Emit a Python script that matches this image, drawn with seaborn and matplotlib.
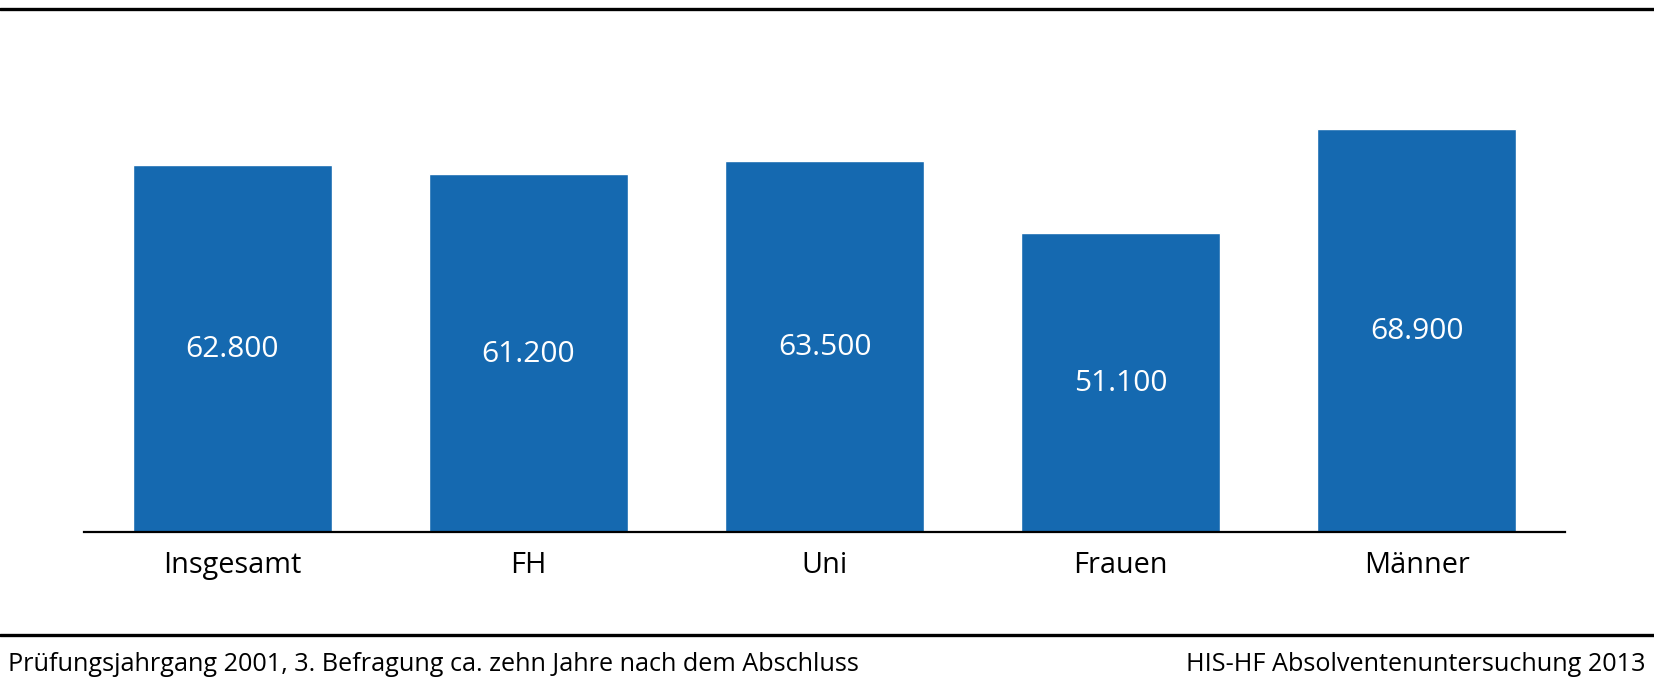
import matplotlib
matplotlib.use("Agg")
import matplotlib.pyplot as plt
import seaborn as sns
import pandas as pd
from matplotlib.lines import Line2D

categories = ["Insgesamt", "FH", "Uni", "Frauen", "Männer"]
values = [62800, 61200, 63500, 51100, 68900]
footer_left = "Prüfungsjahrgang 2001, 3. Befragung ca. zehn Jahre nach dem Abschluss"
footer_right = "HIS-HF Absolventenuntersuchung 2013"

sns.set_theme(style="white")
plt.rcParams["font.family"] = ["Open Sans", "DejaVu Sans"]

bar_color = "#1569B0"

df = pd.DataFrame({"cat": categories, "val": values})

fig = plt.figure(figsize=(16.54, 6.839), dpi=100)
ax = fig.add_axes([84 / 1654, 151 / 684, 1481 / 1654, 467.6 / 684])

sns.barplot(data=df, x="cat", y="val", color=bar_color, saturation=1,
            width=0.672, ax=ax)

ax.set_ylim(0, 80000)
ax.set_xlim(-0.5, len(categories) - 0.5)
ax.set_xlabel("")
ax.set_ylabel("")
ax.set_yticks([])
for s in ["top", "left", "right"]:
    ax.spines[s].set_visible(False)
ax.spines["bottom"].set_color("black")
ax.spines["bottom"].set_linewidth(1.6)
ax.tick_params(axis="x", length=0, pad=13, labelsize=20.8, labelcolor="black")

# value labels in the middle of each bar
for i, v in enumerate(values):
    lbl = f"{v:,}".replace(",", ".")
    ax.text(i, v / 2, lbl, ha="center", va="center", color="white", fontsize=21.5)

# horizontal rules across the full figure
fig.add_artist(Line2D([0, 1], [1 - 10 / 684, 1 - 10 / 684], color="black", lw=2.4))
fig.add_artist(Line2D([0, 1], [1 - 636 / 684, 1 - 636 / 684], color="black", lw=2.4))

fig.text(8 / 1654, 1 - 665 / 684, footer_left, ha="left", va="center", fontsize=18.2, color="black")
fig.text(1 - 9 / 1654, 1 - 665 / 684, footer_right, ha="right", va="center", fontsize=18.2, color="black")

fig.savefig("out.png", dpi=100, facecolor="white")
